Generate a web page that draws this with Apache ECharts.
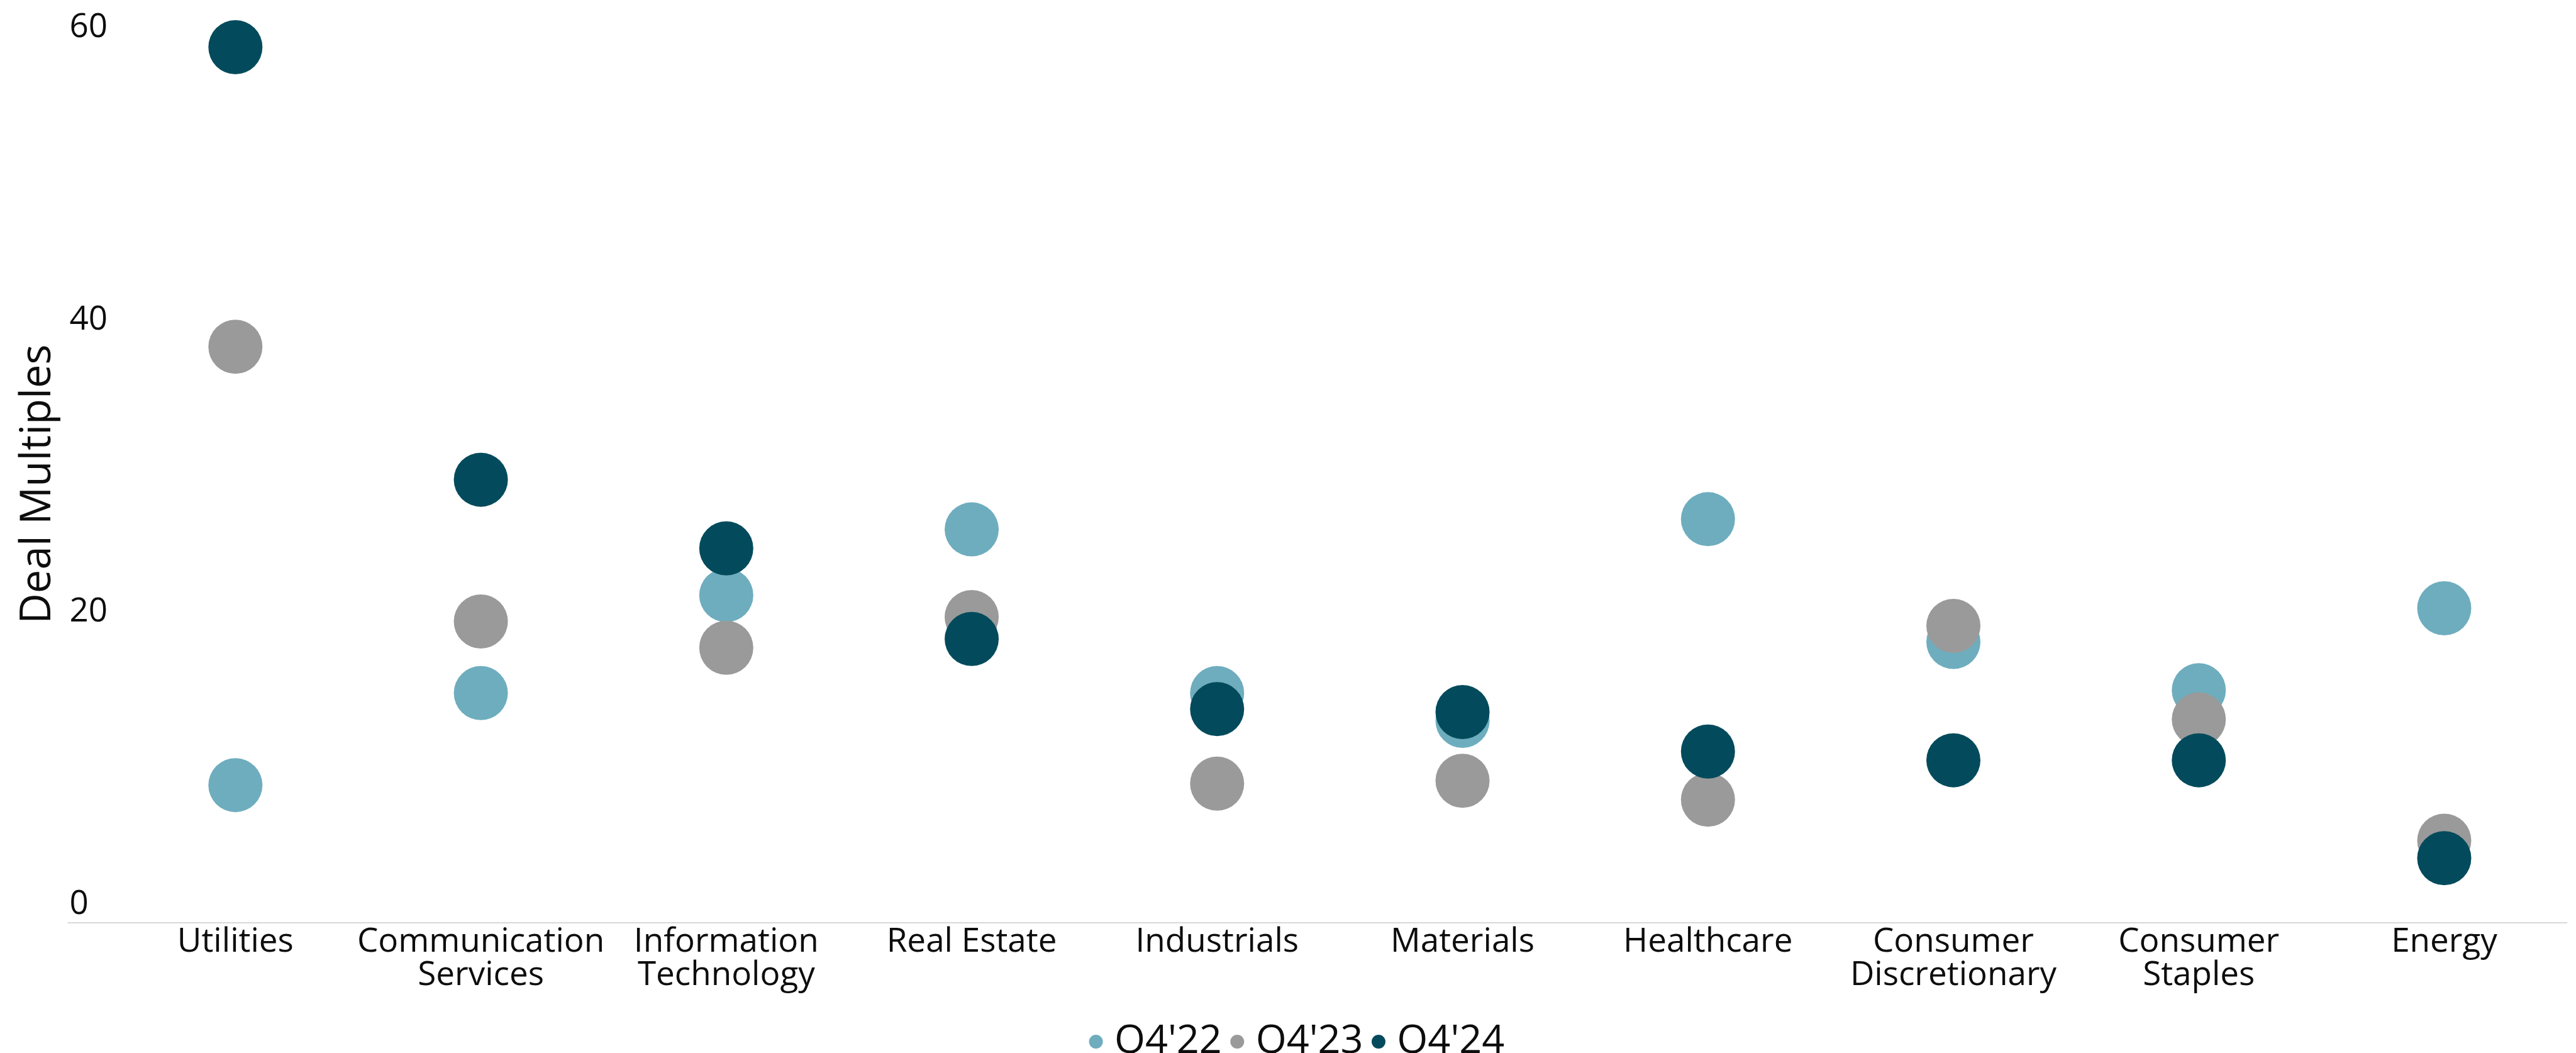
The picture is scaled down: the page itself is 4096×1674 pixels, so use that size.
<!DOCTYPE html>
<html>
<head>
<meta charset="utf-8">
<title>Deal Multiples by Sector</title>
<script src="https://cdn.jsdelivr.net/npm/echarts@6/dist/echarts.min.js"></script>
<style>
  html, body { margin: 0; padding: 0; background: #ffffff; }
  #chart { width: 4096px; height: 1674px; }
</style>
</head>
<body>
<div id="chart"></div>
<script>
// Sectors along the horizontal axis
const categories = [
  'Utilities',
  'Communication\nServices',
  'Information\nTechnology',
  'Real Estate',
  'Industrials',
  'Materials',
  'Healthcare',
  'Consumer\nDiscretionary',
  'Consumer\nStaples',
  'Energy'
];

// Deal multiples per sector, one list per quarter
const seriesNames = ["Q4'22", "Q4'23", "Q4'24"];
const q4_22 = [9.4, 15.7, 22.4, 26.9, 15.7, 13.8, 27.6, 19.2, 15.9, 21.5];
const q4_23 = [39.4, 20.6, 18.8, 20.9, 9.5, 9.7, 8.4, 20.3, 13.9, 5.6];
const q4_24 = [59.9, 30.3, 25.6, 19.4, 14.6, 14.4, 11.7, 11.1, 11.1, 4.4];

// Value axis ticks
const yTicks = [0, 20, 40, 60];

const colors = ['#6EADBE', '#9A9A9A', '#034B5C'];
const FONT = '"Open Sans", "Liberation Sans", Arial, sans-serif';
const TEXT = '#0D0D0D';

const chart = echarts.init(document.getElementById('chart'), null, { renderer: 'canvas' });

function dotSeries(name, data, color) {
  return {
    name: name,
    type: 'scatter',
    xAxisIndex: 0,
    yAxisIndex: 0,
    data: data,
    symbol: 'circle',
    symbolSize: 86,
    itemStyle: { color: color, opacity: 1 },
    emphasis: { disabled: true }
  };
}

chart.setOption({
  animation: false,
  backgroundColor: '#ffffff',
  textStyle: { fontFamily: FONT, color: TEXT },
  grid: [
    { left: 179.2, right: 14.4, top: 72.7, bottom: 207.5, containLabel: false },
    // wider grid that only carries the baseline rule
    { left: 108, right: 14.4, top: 72.7, bottom: 207.5, containLabel: false }
  ],
  legend: {
    data: seriesNames,
    left: 1731.6,
    top: 1618.5,
    padding: 0,
    orient: 'horizontal',
    icon: 'circle',
    itemWidth: 22,
    itemHeight: 22,
    itemGap: 13.4,
    selectedMode: false,
    textStyle: {
      fontFamily: FONT,
      fontSize: 63,
      lineHeight: 63,
      color: TEXT,
      padding: [0, 0, 12, 13.4]
    }
  },
  xAxis: [
    {
      type: 'category',
      gridIndex: 0,
      data: categories,
      boundaryGap: true,
      axisLine: { show: false },
      axisTick: { show: false },
      splitLine: { show: false },
      axisLabel: {
        interval: 0,
        margin: 4.5,
        fontFamily: FONT,
        fontSize: 53,
        lineHeight: 53,
        color: TEXT,
        align: 'center'
      }
    },
    {
      type: 'value',
      gridIndex: 1,
      min: 0,
      max: 1,
      axisLine: { show: true, lineStyle: { color: '#CCCCCC', width: 1.5 } },
      axisTick: { show: false },
      axisLabel: { show: false },
      splitLine: { show: false }
    }
  ],
  yAxis: [
    {
      type: 'value',
      gridIndex: 0,
      min: 0,
      max: 60,
      interval: 20,
      name: 'Deal Multiples',
      nameLocation: 'middle',
      nameRotate: 90,
      nameGap: 85,
      nameTextStyle: { fontFamily: FONT, fontSize: 67, lineHeight: 67, color: TEXT },
      axisLine: { show: false },
      axisTick: { show: false },
      splitLine: { show: false },
      axisLabel: {
        margin: 68.8,
        align: 'left',
        verticalAlign: 'bottom',
        padding: [0, 0, 2, 0],
        fontFamily: FONT,
        fontSize: 53,
        lineHeight: 53,
        color: TEXT,
        formatter: function (v) { return yTicks.indexOf(v) >= 0 ? String(v) : ''; }
      }
    },
    {
      type: 'value',
      gridIndex: 1,
      min: 0,
      max: 60,
      show: false
    }
  ],
  series: [
    dotSeries(seriesNames[0], q4_22, colors[0]),
    dotSeries(seriesNames[1], q4_23, colors[1]),
    dotSeries(seriesNames[2], q4_24, colors[2])
  ]
});
</script>
</body>
</html>
